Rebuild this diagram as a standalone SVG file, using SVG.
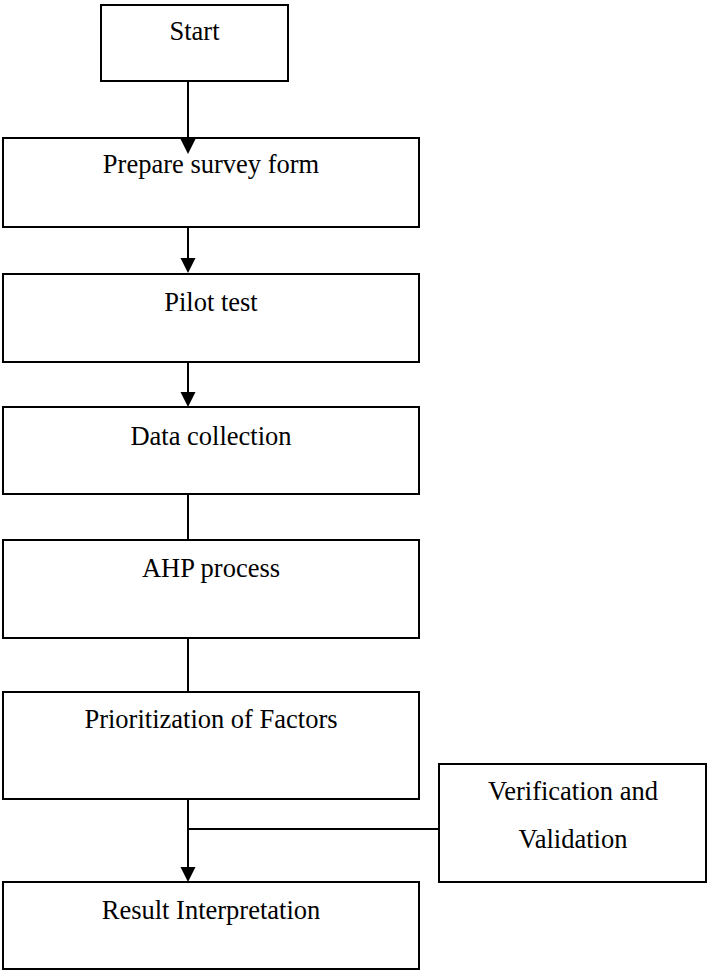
<svg xmlns="http://www.w3.org/2000/svg" width="707" height="971" viewBox="0 0 707 971">
<style>
.box{fill:#fff;stroke:#000;stroke-width:2}
.t{font-family:"Liberation Serif","Times New Roman",serif;font-size:26.5px;fill:#000;text-anchor:middle}
.ln{stroke:#000;stroke-width:2;fill:none}
.ah{fill:#000}
</style>
<rect width="707" height="971" fill="#fff"/>
<g id="start"><rect class="box" x="101" y="5" width="187" height="76"/><text class="t" x="194.5" y="40">Start</text></g>
<g id="prepare"><rect class="box" x="3" y="138" width="416" height="89"/><text class="t" x="211" y="173">Prepare survey form</text></g>
<g id="pilot"><rect class="box" x="3" y="274" width="416" height="88"/><text class="t" x="211" y="311">Pilot test</text></g>
<g id="data"><rect class="box" x="3" y="407" width="416" height="87"/><text class="t" x="211" y="445">Data collection</text></g>
<g id="ahp"><rect class="box" x="3" y="540" width="416" height="98"/><text class="t" x="211" y="577">AHP process</text></g>
<g id="prior"><rect class="box" x="3" y="692" width="416" height="107"/><text class="t" x="211" y="728">Prioritization of Factors</text></g>
<g id="verif"><rect class="box" x="439" y="764" width="267" height="118"/><text class="t" x="573" y="800">Verification and</text><text class="t" x="573" y="848">Validation</text></g>
<g id="result"><rect class="box" x="3" y="882" width="416" height="87"/><text class="t" x="211" y="919">Result Interpretation</text></g>
<g id="connectors">
<line class="ln" x1="188" y1="81" x2="188" y2="140"/><polygon class="ah" points="180.5,139 195.5,139 188,154"/>
<line class="ln" x1="188" y1="227" x2="188" y2="259"/><polygon class="ah" points="180.5,258 195.5,258 188,273"/>
<line class="ln" x1="188" y1="362" x2="188" y2="393"/><polygon class="ah" points="180.5,392 195.5,392 188,407"/>
<line class="ln" x1="188" y1="494" x2="188" y2="540"/>
<line class="ln" x1="188" y1="638" x2="188" y2="692"/>
<line class="ln" x1="188" y1="799" x2="188" y2="868"/><polygon class="ah" points="180.5,867 195.5,867 188,882"/>
<line class="ln" x1="188" y1="829" x2="439" y2="829"/>
</g>
</svg>
